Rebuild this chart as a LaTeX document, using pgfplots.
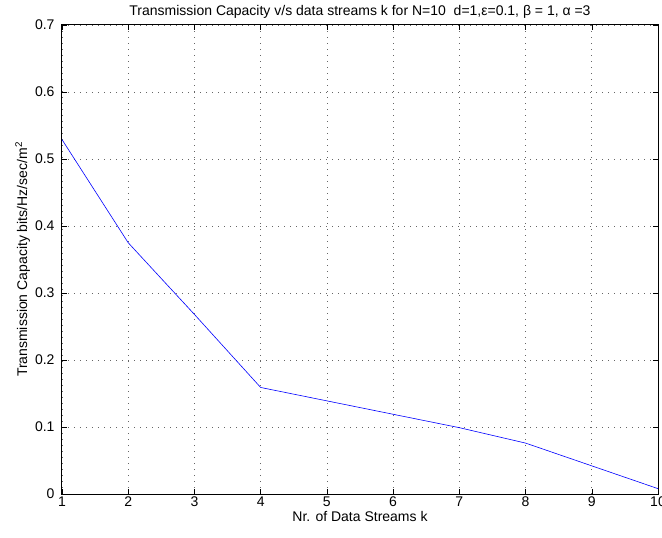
\documentclass[border=0pt]{standalone}
\usepackage{pgfplots}
\pgfplotsset{compat=1.18}
\usepackage{fontspec}
\setmainfont{Liberation Sans}
\begin{document}
\begin{tikzpicture}
\begin{axis}[
  name=ax,
  scale only axis,
  width=596pt, height=469pt,
  xmin=1, xmax=10, ymin=0, ymax=0.7,
  xtick={1,...,10},
  ytick={0,0.1,0.2,0.3,0.4,0.5,0.6,0.7},
  /pgf/number format/assume math mode=true,
  yticklabel style={/pgf/number format/fixed, /pgf/number format/precision=1, xshift=-4pt},
  xticklabel style={yshift=1pt},
  ticklabel style={font=\fontsize{14}{16}\selectfont},
  tick align=inside,
  major tick length=5pt,
  tick style={black, line width=0.5pt},
  axis line style={black, line width=1pt},
  grid=major,
  major grid style={black!60, line width=0.6pt, dash pattern=on 0.8pt off 5.2pt},
  xlabel={Nr. of Data Streams k},
  ylabel={Transmission Capacity bits/Hz/sec/m\textsuperscript{2}},
  label style={font=\fontsize{14}{16}\selectfont},
  xlabel style={yshift=2pt},
  ylabel style={yshift=-2pt},
  title={Transmission Capacity v/s data streams k for N=10\ \ d=1,ε=0.1, β = 1, α =3},
  title style={font=\fontsize{14}{16}\selectfont, yshift=-3pt},
]
\addplot[blue, line width=0.6pt] coordinates {
 (1,0.529) (2,0.375) (3,0.268) (4,0.159) (5,0.139) (6,0.119) (7,0.099) (8,0.076) (9,0.042) (10,0.008)
};
\end{axis}
\pgfresetboundingbox
\path[use as bounding box] ([xshift=-62pt,yshift=-43pt]ax.south west) rectangle ([xshift=4pt,yshift=25pt]ax.north east);
\end{tikzpicture}
\end{document}
